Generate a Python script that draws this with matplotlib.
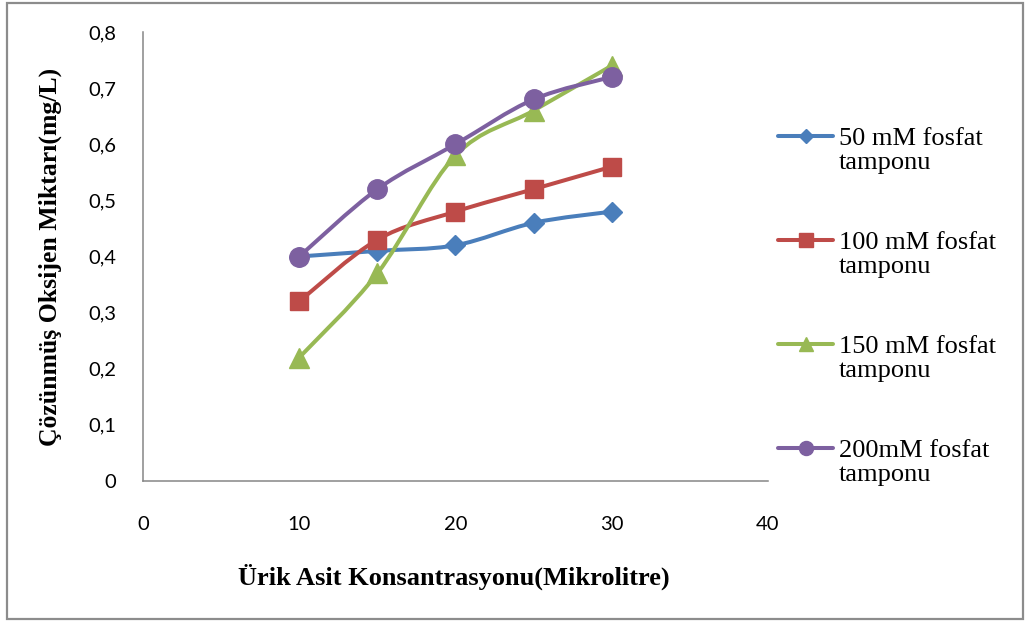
import numpy as np
import matplotlib
matplotlib.use("Agg")
import matplotlib.pyplot as plt
from matplotlib.path import Path
from matplotlib.patches import PathPatch, Rectangle
from matplotlib.lines import Line2D
from matplotlib.legend_handler import HandlerLine2D
from matplotlib.ticker import FuncFormatter

# data
konsantrasyon = [10, 15, 20, 25, 30]
mm50 = [0.40, 0.41, 0.42, 0.46, 0.48]
mm100 = [0.32, 0.43, 0.48, 0.52, 0.56]
mm150 = [0.22, 0.37, 0.58, 0.66, 0.74]
mm200 = [0.40, 0.52, 0.60, 0.68, 0.72]
labels = ["50 mM fosfat\ntamponu", "100 mM fosfat\ntamponu",
          "150 mM fosfat\ntamponu", "200mM fosfat\ntamponu"]

colors = ["#4A7EBB", "#BE4B48", "#98B954", "#7D60A0"]
markers = ["D", "s", "^", "o"]
msizes = [10.5, 13.5, 14, 14]


def smooth_path(x, y):
    # excel-like smoothed line: cubic bezier through the points
    pts = np.column_stack([x, y]).astype(float)
    ext = np.vstack([pts[0], pts, pts[-1]])
    verts = [pts[0]]
    codes = [Path.MOVETO]
    for i in range(len(pts) - 1):
        p0, p1, p2, p3 = ext[i], ext[i + 1], ext[i + 2], ext[i + 3]
        verts += [p1 + (p2 - p0) / 6, p2 - (p3 - p1) / 6, p2]
        codes += [Path.CURVE4] * 3
    return Path(verts, codes)


class FirstLineHandler(HandlerLine2D):
    # put the legend line next to the first text line, like Excel
    def create_artists(self, legend, orig_handle, xdescent, ydescent,
                       width, height, fontsize, trans):
        arts = super().create_artists(legend, orig_handle, xdescent, ydescent,
                                      width, height, fontsize, trans)
        for a in arts:
            a.set_ydata(np.asarray(a.get_ydata()) + 0.55 * fontsize)
        return arts


fig = plt.figure(figsize=(10.30, 6.22), dpi=100)
ax = fig.add_axes([143 / 1030, 1 - 481 / 622, 625 / 1030, 449 / 622])

handles = []
for yv, c, m, ms, lab in zip([mm50, mm100, mm150, mm200], colors, markers, msizes, labels):
    ax.add_patch(PathPatch(smooth_path(konsantrasyon, yv), fill=False,
                           edgecolor=c, lw=2.9, capstyle="round", joinstyle="round"))
    ax.plot(konsantrasyon, yv, ls="none", marker=m, ms=ms, color=c)
    handles.append(Line2D([], [], color=c, lw=2.9, marker=m, ms=ms * 0.72,
                          solid_capstyle="round", label=lab))

ax.set_xlim(0, 40)
ax.set_ylim(0, 0.8)
ax.set_xticks([0, 10, 20, 30, 40])
ax.set_yticks(np.arange(0, 0.81, 0.1))
ax.yaxis.set_major_formatter(FuncFormatter(lambda v, p: ("%g" % round(v, 1)).replace(".", ",")))
ax.tick_params(length=0, labelsize=14.5, colors="black")
ax.tick_params(axis="y", pad=19)
ax.tick_params(axis="x", pad=25)
for lab in ax.get_xticklabels() + ax.get_yticklabels():
    lab.set_fontfamily("Lato")

for s in ["top", "right"]:
    ax.spines[s].set_visible(False)
for s in ["left", "bottom"]:
    ax.spines[s].set_color("#868686")
    ax.spines[s].set_linewidth(1.1)

ax.set_xlabel("Ürik Asit Konsantrasyonu(Mikrolitre)", fontfamily="Liberation Serif",
              fontweight="bold", fontsize=19)
ax.xaxis.set_label_coords(0.497, -0.183)
ax.set_ylabel("Çözünmüş Oksijen Miktarı(mg/L)", fontfamily="Liberation Serif",
              fontweight="bold", fontsize=18.5)
ax.yaxis.set_label_coords(-0.149, 0.5)
ax.yaxis.label.set_verticalalignment("center")

leg = fig.legend(handles=handles, loc="upper left", bbox_to_anchor=(778 / 1030, 1 - 128 / 622),
                 frameon=False, borderpad=0, borderaxespad=0, handlelength=2.1,
                 handletextpad=0.2, labelspacing=2.2,
                 prop={"family": "Liberation Serif", "size": 19},
                 handler_map={Line2D: FirstLineHandler()})
for t in leg.get_texts():
    t.set_linespacing(1.12)

fig.patches.append(Rectangle((7 / 1030, 3 / 622), 1016 / 1030, 616 / 622,
                             transform=fig.transFigure, fill=False,
                             edgecolor="#8c8c8c", lw=1.6))

fig.savefig("out.png", dpi=100)
